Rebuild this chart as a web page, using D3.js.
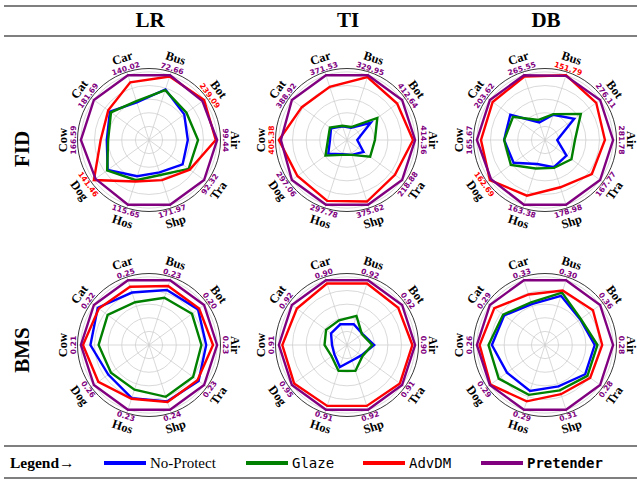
<!DOCTYPE html>
<html><head><meta charset="utf-8">
<script src="https://cdn.jsdelivr.net/npm/d3@7"></script>
<style>body{margin:0;background:#fff}svg{display:block}</style>
</head><body><svg id="c" width="637" height="481"></svg>
<script>
const categories = ["Air","Bot","Bus","Car","Cat","Cow","Dog","Hos","Shp","Tra"];
const methods = ["No-Protect","Glaze","AdvDM","Pretender"];
const methodColors = ["#0000ff","#008000","#ff0000","#800080"];
const columns = ["LR","TI","DB"];
const rows = ["FID","BMS"];

// radial values (relative to best method), order: No-Protect, Glaze, AdvDM, Pretender
const LR_FID = [
  [0.57,0.64,0.78,0.58,0.71,0.62,0.75,0.56,0.50,0.61],
  [0.72,0.68,0.77,0.60,0.69,0.60,0.76,0.62,0.54,0.72],
  [0.98,1.00,0.98,0.89,0.74,0.71,1.00,0.64,0.62,0.74],
  [1,0.97,1,1,1,1,0.97,1,1,1]];
const TI_FID = [
  [0.15,0.43,0.19,0.21,0.29,0.25,0.34,0.22,0.23,0.30],
  [0.41,0.55,0.20,0.22,0.31,0.28,0.39,0.23,0.23,0.42],
  [0.97,0.91,0.97,0.82,0.82,1.00,0.90,0.94,0.95,0.87],
  [1,1,1,1,1,0.97,1,1,1,1]];
const DB_FID = [
  [0.18,0.53,0.39,0.27,0.63,0.60,0.57,0.37,0.42,0.39],
  [0.44,0.65,0.40,0.31,0.58,0.60,0.62,0.44,0.43,0.48],
  [0.88,0.93,1.00,0.98,0.95,0.94,1.00,0.86,0.73,0.85],
  [1,1,0.99,1,1,1,0.98,1,1,1]];
const LR_BMS = [
  [0.84,0.89,0.85,0.81,0.93,0.86,0.74,0.82,0.87,0.90],
  [0.77,0.78,0.73,0.66,0.75,0.74,0.69,0.69,0.80,0.80],
  [0.94,0.91,0.91,0.90,0.91,0.97,0.92,0.83,0.88,0.88],
  [1,1,1,1,1,1,1,1,1,1]];
const TI_BMS = [
  [0.40,0.28,0.32,0.32,0.29,0.22,0.23,0.34,0.24,0.26],
  [0.37,0.27,0.45,0.38,0.38,0.33,0.28,0.40,0.40,0.28],
  [0.96,0.93,0.95,0.95,0.91,0.95,0.96,0.94,0.94,0.96],
  [1,1,1,1,1,1,1,1,1,1]];
const DB_BMS = [
  [0.73,0.64,0.76,0.63,0.74,0.78,0.69,0.71,0.64,0.73],
  [0.77,0.65,0.81,0.66,0.76,0.83,0.84,0.77,0.70,0.77],
  [0.84,0.87,0.84,0.78,0.92,0.96,0.99,0.87,0.76,0.82],
  [1,1,1,1,1,1,1,1,1,1]];

// best raw values per category
const LR_FID_best = ["99.44","239.09","72.66","140.02","181.69","166.59","141.46","115.65","171.97","92.32"];
const TI_FID_best = ["414.36","412.64","329.95","371.53","388.92","405.38","297.06","297.78","375.62","218.88"];
const DB_FID_best = ["281.78","276.11","151.79","265.55","203.62","165.67","162.69","163.38","178.98","167.77"];
const LR_BMS_best = ["0.23","0.20","0.23","0.25","0.22","0.21","0.26","0.23","0.24","0.23"];
const TI_BMS_best = ["0.90","0.92","0.92","0.90","0.92","0.91","0.95","0.91","0.92","0.91"];
const DB_BMS_best = ["0.28","0.36","0.30","0.33","0.29","0.26","0.29","0.29","0.31","0.28"];

const gridLevels = [0.2,0.4,0.6,0.8,1.0];

const panels = [
  {row:0,col:0,data:LR_FID,best:LR_FID_best},
  {row:0,col:1,data:TI_FID,best:TI_FID_best},
  {row:0,col:2,data:DB_FID,best:DB_FID_best},
  {row:1,col:0,data:LR_BMS,best:LR_BMS_best},
  {row:1,col:1,data:TI_BMS,best:TI_BMS_best},
  {row:1,col:2,data:DB_BMS,best:DB_BMS_best}
];

const svg = d3.select("#c");
const cx = d3.scalePoint().domain(columns).range([149,545]);
const cy = d3.scalePoint().domain(rows).range([140,345]);
const r = d3.scaleLinear().domain([0,1.05]).range([0,71.5]);
const ang = d3.scaleLinear().domain([0,categories.length]).range([0,2*Math.PI]); // math angle, CCW from east
const serif = "'Liberation Serif','Times New Roman',serif";

// rules
[6,36,446,478].forEach(y=>{
  svg.append("line").attr("x1",4).attr("x2",637).attr("y1",y).attr("y2",y)
    .attr("stroke","#555").attr("stroke-width",1.4);
});
// column titles
columns.forEach(c=>{
  svg.append("text").attr("x",cx(c)+1).attr("y",27).attr("text-anchor","middle")
    .attr("font-family",serif).attr("font-weight","bold").attr("font-size",21).text(c);
});
// row titles
const rowY = {FID:149, BMS:350};
rows.forEach(rw=>{
  svg.append("text").attr("transform",`translate(29,${rowY[rw]}) rotate(-90)`)
    .attr("text-anchor","middle").attr("font-family",serif).attr("font-weight","bold")
    .attr("font-size",21).text(rw);
});

function rotFor(i){
  let rot = 90 - ang(i)*180/Math.PI;
  if (rot < -90) rot += 180;
  return rot;
}

panels.forEach(p=>{
  const g = svg.append("g").attr("transform",`translate(${cx(columns[p.col])},${cy(rows[p.row])})`);
  // rings
  g.selectAll(".ring").data(gridLevels).enter().append("circle")
    .attr("r",d=>r(d)).attr("fill","none").attr("stroke","#cfcfcf").attr("stroke-width",0.8);
  // spokes
  g.selectAll(".spoke").data(categories).enter().append("line")
    .attr("x1",0).attr("y1",0)
    .attr("x2",(d,i)=>r(1.05)*Math.cos(ang(i)))
    .attr("y2",(d,i)=>-r(1.05)*Math.sin(ang(i)))
    .attr("stroke","#cfcfcf").attr("stroke-width",0.8);
  // spine
  g.append("circle").attr("r",r(1.05)).attr("fill","none").attr("stroke","#222").attr("stroke-width",0.9);
  // polygons
  const line = d3.lineRadial()
    .angle((d,i)=>Math.PI/2 - ang(i))
    .radius(d=>r(d))
    .curve(d3.curveLinearClosed);
  p.data.forEach((vals,k)=>{
    g.append("path").attr("d",line(vals)).attr("fill","none")
      .attr("stroke",methodColors[k]).attr("stroke-width",2.4).attr("stroke-linejoin","miter");
  });
  // labels
  categories.forEach((cat,i)=>{
    const a = ang(i);
    const rot = rotFor(i);
    const c8 = Math.pow(Math.cos(a),8);
    const rv = 75 + 1*c8, rc = 86;
    let bi = 0;
    p.data.forEach((vals,k)=>{ if (vals[i] > p.data[bi][i]) bi = k; });
    g.append("text")
      .attr("transform",`translate(${rv*Math.cos(a)},${-rv*Math.sin(a)}) rotate(${rot})`)
      .attr("text-anchor","middle").attr("dominant-baseline","central")
      .attr("font-family","'DejaVu Sans',sans-serif").attr("font-weight","bold")
      .attr("font-size",7.5).attr("fill",methodColors[bi]).text(p.best[i]);
    g.append("text")
      .attr("transform",`translate(${rc*Math.cos(a)},${-rc*Math.sin(a)}) rotate(${rot})`)
      .attr("text-anchor","middle").attr("dominant-baseline","central")
      .attr("font-family",serif).attr("font-weight","bold")
      .attr("font-size",12.5).attr("fill","#000").text(cat);
  });
});

// legend
svg.append("text").attr("x",10).attr("y",468).attr("font-family",serif).attr("font-weight","bold")
  .attr("font-size",15.5).text("Legend\u2192");
const legX = [104,246,363,481];
const legFont = [serif,"'DejaVu Sans Mono',monospace","'DejaVu Sans Mono',monospace","'DejaVu Sans Mono',monospace"];
const legSize = [15,14,14,14];
const legWeight = ["normal","normal","normal","bold"];
methods.forEach((m,k)=>{
  svg.append("line").attr("x1",legX[k]).attr("x2",legX[k]+42).attr("y1",463).attr("y2",463)
    .attr("stroke",methodColors[k]).attr("stroke-width",4);
  svg.append("text").attr("x",legX[k]+46).attr("y",468).attr("font-family",legFont[k])
    .attr("font-weight",legWeight[k]).attr("font-size",legSize[k]).text(m);
});
</script></body></html>
